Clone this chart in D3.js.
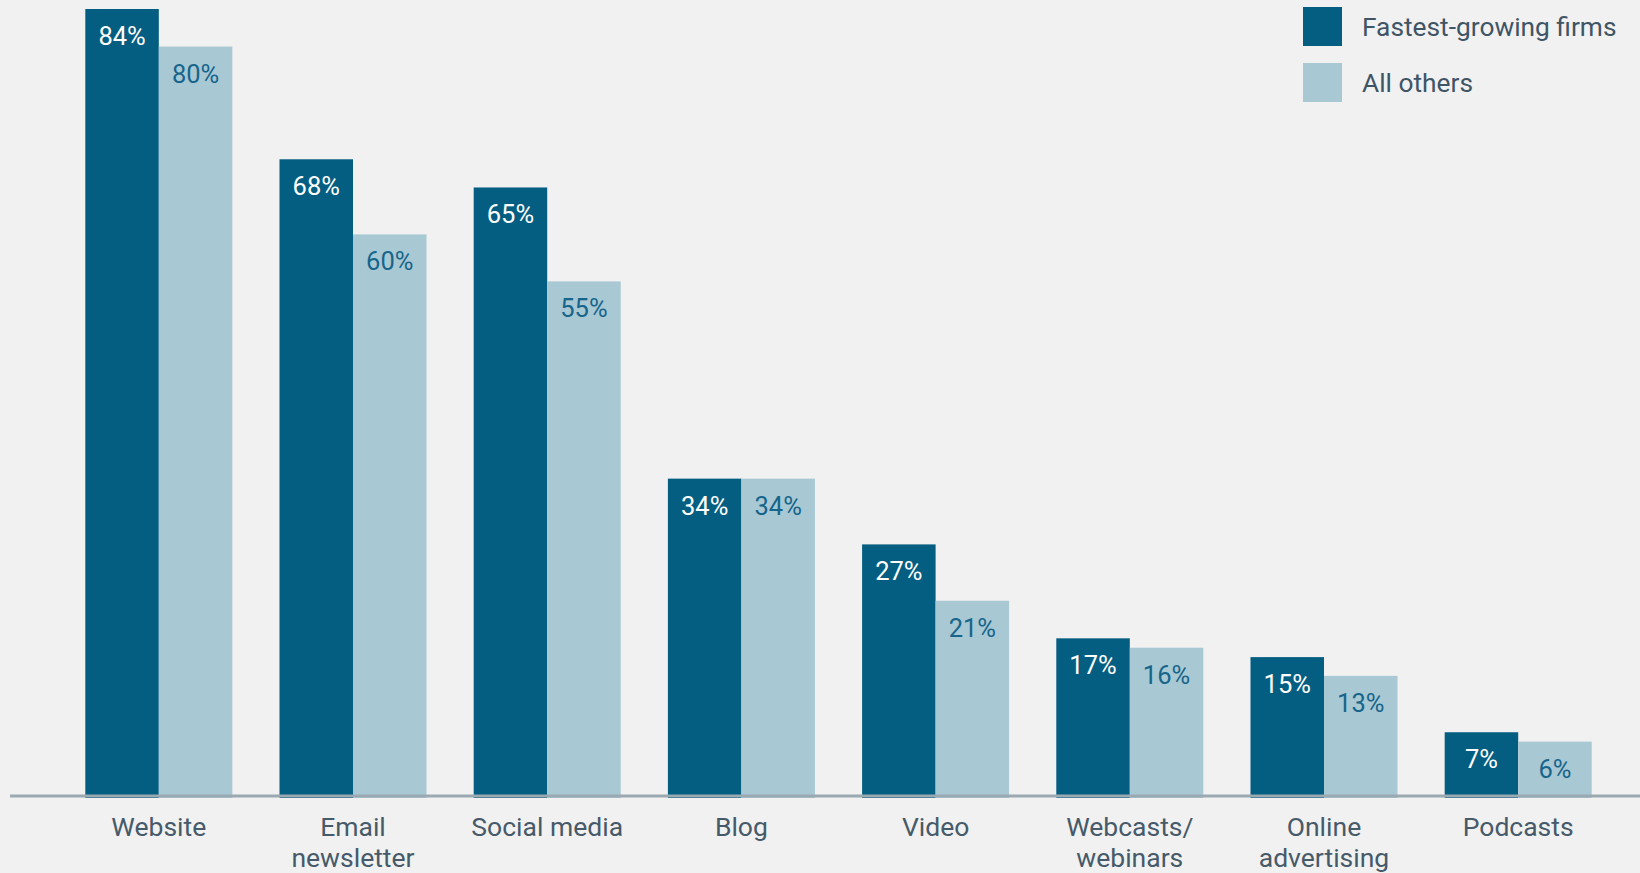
<!DOCTYPE html>
<html>
<head>
<meta charset="utf-8">
<script src="https://cdn.jsdelivr.net/npm/d3@7"></script>
<style>
  html, body { margin: 0; padding: 0; background: #f1f1f1; }
  svg { display: block; font-family: Roboto, "Noto Sans", sans-serif; }
</style>
</head>
<body>
<svg id="chart" width="1640" height="873"></svg>
<script>
// Share of firms using each marketing channel
const categories = [
  ["Website"],
  ["Email", "newsletter"],
  ["Social media"],
  ["Blog"],
  ["Video"],
  ["Webcasts/", "webinars"],
  ["Online", "advertising"],
  ["Podcasts"]
];
const seriesNames = ["Fastest-growing firms", "All others"];
const fastestGrowing = [84, 68, 65, 34, 27, 17, 15, 7];
const allOthers = [80, 60, 55, 34, 21, 16, 13, 6];

const colors = ["#045e81", "#a8c8d4"];
const labelColors = ["#ffffff", "#17658a"];

const W = 1640, H = 873;
const baseY = 798;
const svg = d3.select("#chart");

svg.append("rect").attr("width", W).attr("height", H).attr("fill", "#f1f1f1");

const keys = categories.map(c => c.join(" "));
const x = d3.scaleBand()
  .domain(keys)
  .range([62, 1615])
  .paddingInner(0.243)
  .paddingOuter(0.12);

const xs = d3.scaleBand()
  .domain([0, 1])
  .range([0, x.bandwidth()]);

const y = d3.scaleLinear()
  .domain([0, 84])
  .range([baseY, 9]);

const series = [fastestGrowing, allOthers];
const rows = keys.map((k, i) => ({ key: k, lines: categories[i], vals: series.map(s => s[i]) }));

const groups = svg.append("g").selectAll("g")
  .data(rows)
  .join("g")
  .attr("transform", d => `translate(${x(d.key)},0)`);

groups.selectAll("rect")
  .data(d => d.vals.map((v, j) => ({ v, j })))
  .join("rect")
  .attr("x", d => xs(d.j))
  .attr("y", d => y(d.v))
  .attr("width", xs.bandwidth())
  .attr("height", d => baseY - y(d.v))
  .attr("fill", d => colors[d.j]);

groups.selectAll("text.val")
  .data(d => d.vals.map((v, j) => ({ v, j })))
  .join("text")
  .attr("class", "val")
  .attr("x", d => xs(d.j) + xs.bandwidth() / 2)
  .attr("y", d => y(d.v) + 36)
  .attr("text-anchor", "middle")
  .attr("font-size", 25.5)
  .attr("fill", d => labelColors[d.j])
  .text(d => d.v + "%");

// baseline axis
const xAxis = d3.axisBottom(x).tickSize(0).tickFormat("");
const axisG = svg.append("g").attr("transform", `translate(0,${baseY - 2})`).call(xAxis);
axisG.select(".domain").remove();
svg.append("line")
  .attr("x1", 10).attr("x2", W)
  .attr("y1", baseY - 2).attr("y2", baseY - 2)
  .attr("stroke", "#9ba9b2").attr("stroke-width", 3);

// category labels
groups.append("text")
  .attr("x", x.bandwidth() / 2)
  .attr("y", 836)
  .attr("text-anchor", "middle")
  .attr("font-size", 26.5)
  .attr("fill", "#475a69")
  .selectAll("tspan")
  .data(d => d.lines)
  .join("tspan")
  .attr("x", x.bandwidth() / 2)
  .attr("dy", (d, i) => i === 0 ? 0 : 31)
  .text(d => d);

// legend
const legend = svg.append("g").attr("transform", "translate(1303,7)");
const items = legend.selectAll("g")
  .data(seriesNames)
  .join("g")
  .attr("transform", (d, i) => `translate(0,${i * 56})`);
items.append("rect")
  .attr("width", 39).attr("height", 39)
  .attr("fill", (d, i) => colors[i]);
items.append("text")
  .attr("x", 59).attr("y", 29)
  .attr("font-size", 26.3)
  .attr("fill", "#3f5566")
  .text(d => d);
</script>
</body>
</html>
